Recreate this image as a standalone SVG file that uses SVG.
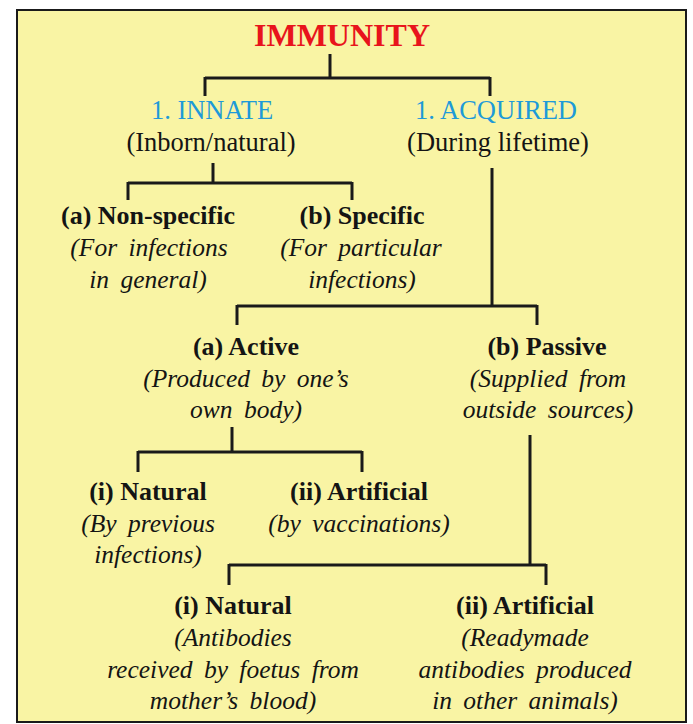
<svg xmlns="http://www.w3.org/2000/svg" width="693" height="724" viewBox="0 0 693 724">
<style>
text{font-family:"Liberation Serif","Times New Roman",serif;text-anchor:middle;fill:#141414}
.t{font-size:32px;font-weight:bold;fill:#e8141c}
.l1{font-size:26.5px;fill:#1e9ad8}
.p{font-size:26.5px}
.b{font-size:26px;font-weight:bold}
.i{font-size:25.5px;font-style:italic;word-spacing:5px}
.c line{stroke:#1a1a1a;stroke-width:3}
</style>
<rect x="0" y="0" width="693" height="724" fill="#ffffff"/>
<rect x="17" y="10" width="669" height="712" fill="#f9f4a4" stroke="#1a1a1a" stroke-width="2"/>
<g class="c" id="connectors">
<line x1="330" y1="54" x2="330" y2="78"/>
<line x1="205" y1="78" x2="490" y2="78"/>
<line x1="205" y1="77" x2="205" y2="96"/>
<line x1="490" y1="77" x2="490" y2="96"/>
<line x1="213" y1="163" x2="213" y2="183"/>
<line x1="128" y1="183" x2="352" y2="183"/>
<line x1="128" y1="182" x2="128" y2="200"/>
<line x1="352" y1="182" x2="352" y2="200"/>
<line x1="492" y1="168" x2="492" y2="306"/>
<line x1="237" y1="306" x2="537" y2="306"/>
<line x1="237" y1="305" x2="237" y2="325"/>
<line x1="537" y1="305" x2="537" y2="325"/>
<line x1="232" y1="427" x2="232" y2="452"/>
<line x1="138" y1="452" x2="362" y2="452"/>
<line x1="138" y1="451" x2="138" y2="472"/>
<line x1="362" y1="451" x2="362" y2="472"/>
<line x1="530" y1="435" x2="530" y2="565"/>
<line x1="229" y1="565" x2="546" y2="565"/>
<line x1="229" y1="564" x2="229" y2="585"/>
<line x1="546" y1="564" x2="546" y2="585"/>
</g>
<g id="immunity"><text class="t" x="342" y="46">IMMUNITY</text></g>
<g id="innate"><text class="l1" x="212" y="119">1. INNATE</text><text class="p" x="211" y="151">(Inborn/natural)</text></g>
<g id="acquired"><text class="l1" x="496" y="119">1. ACQUIRED</text><text class="p" x="498" y="151">(During lifetime)</text></g>
<g id="nonspecific"><text class="b" x="148" y="224">(a) Non-specific</text><text class="i" x="149" y="256">(For infections</text><text class="i" x="148" y="288">in general)</text></g>
<g id="specific"><text class="b" x="362" y="224">(b) Specific</text><text class="i" x="361" y="256">(For particular</text><text class="i" x="362" y="288">infections)</text></g>
<g id="active"><text class="b" x="246" y="355">(a) Active</text><text class="i" x="246" y="387">(Produced by one’s</text><text class="i" x="246" y="418">own body)</text></g>
<g id="passive"><text class="b" x="547" y="355">(b) Passive</text><text class="i" x="548" y="387">(Supplied from</text><text class="i" x="548" y="418">outside sources)</text></g>
<g id="active-natural"><text class="b" x="148" y="500">(i) Natural</text><text class="i" x="148" y="532">(By previous</text><text class="i" x="148" y="563">infections)</text></g>
<g id="active-artificial"><text class="b" x="359" y="500">(ii) Artificial</text><text class="i" x="359" y="532">(by vaccinations)</text></g>
<g id="passive-natural"><text class="b" x="233" y="614">(i) Natural</text><text class="i" x="233" y="646">(Antibodies</text><text class="i" x="233" y="678">received by foetus from</text><text class="i" x="233" y="709">mother’s blood)</text></g>
<g id="passive-artificial"><text class="b" x="525" y="614">(ii) Artificial</text><text class="i" x="525" y="646">(Readymade</text><text class="i" x="525" y="678">antibodies produced</text><text class="i" x="525" y="709">in other animals)</text></g>
</svg>
